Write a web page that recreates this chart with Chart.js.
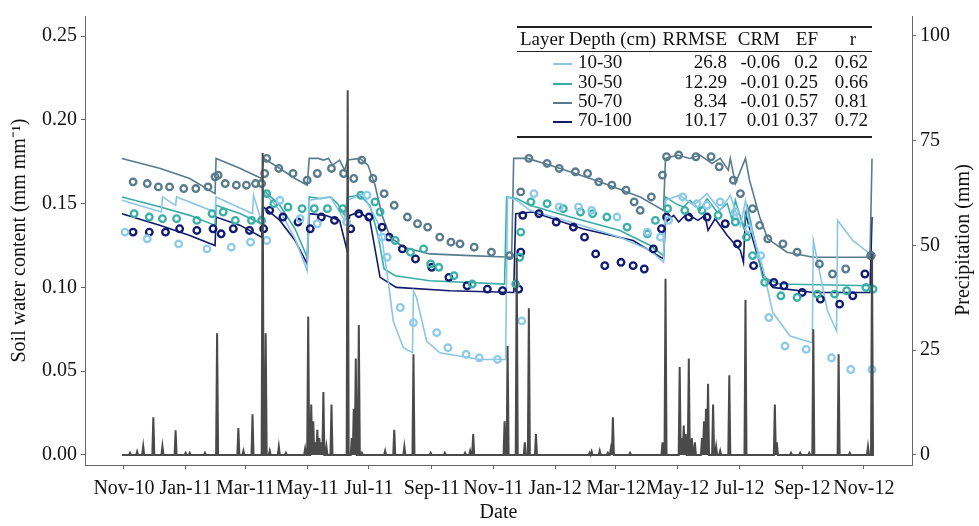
<!DOCTYPE html>
<html>
<head>
<meta charset="utf-8">
<title>Soil water content and precipitation</title>
<script src="https://cdn.jsdelivr.net/npm/chart.js"></script>
<style>
  body { margin: 0; background: #fff; font-family: 'Liberation Serif', 'Times New Roman', serif; }
  #wrap { position: relative; width: 979px; height: 526px; }
  #stats { position: absolute; left: 0; top: 0; width: 979px; height: 526px; pointer-events: none; font-size: 19px; color: #111; }
  #stats div { position: absolute; height: 22px; line-height: 22px; white-space: nowrap; }
  #stats div.rule { height: 2px; background: #222; }
  #stats div.ytitle2 { font-size: 20px; width: 240px; text-align: center; transform: rotate(-90deg); }
</style>
</head>
<body>
<div id="wrap">
  <canvas id="swc" width="979" height="526"></canvas>
  <div id="stats"></div>
</div>
<script>
// x values are days since 1 Nov 2010
const monthDays = [0, 61, 120, 181, 242, 304, 365, 426, 486, 547, 608, 670, 731];
const monthLabels = ['Nov-10', 'Jan-11', 'Mar-11', 'May-11', 'Jul-11', 'Sep-11', 'Nov-11',
                     'Jan-12', 'Mar-12', 'May-12', 'Jul-12', 'Sep-12', 'Nov-12'];
const swcTicks = [0, 0.05, 0.10, 0.15, 0.20, 0.25];
const rainTicks = [0, 25, 50, 75, 100];

// table next to the legend
const layers = ['10-30', '30-50', '50-70', '70-100'];
const rrmse = ['26.8', '12.29', '8.34', '10.17'];
const crm = ['-0.06', '-0.01', '-0.01', '0.01'];
const ef = ['0.2', '0.25', '0.57', '0.37'];
const rval = ['0.62', '0.66', '0.81', '0.72'];
const layerColors = ['#8cc6e6', '#38ada6', '#587b8d', '#121a6c'];

// precipitation events [day, mm]; every other day is 0
const rain = [[6,0.5],[13,0.8],[19,2.1],[29,9],[38,2.1],[51,5.9],[61,0.5],[65,0.5],[80,0.5],[92,29],
  [113,6.4],[118,1],[127,9.7],[137,72],[140,29],[144,1],[153,2],[160,0.5],[179,1.5],[182,33],
  [185,12],[187,8],[189,3],[191,6],[193,4],[195,3],[197,15],[200,2],[205,12],[221,87],
  [225,4],[227,11],[229,23],[232,31],[235,0.5],[258,1],[267,6],[277,2],[286,24],[303,0.5],
  [317,0.5],[337,0.5],[342,1],[345,5],[376,8],[379,26],[388,47],[396,3],[400,35],[407,5],
  [460,0.5],[462,0.8],[470,1],[478,0.5],[481,1.5],[483,9],[500,0.5],[532,3],[535,42],[549,21],
  [551,4],[553,7],[555,5],[558,23],[561,4],[564,3],[571,4],[573,8],[575,11],[577,17],
  [582,12],[585,2],[589,1],[598,19],[614,37],[643,12],[645,3],[659,0.5],[668,0.5],[677,0.5],
  [681,30],[706,24],[717,0.5],[735,2],[739,48]];

// simulated soil water content [day, mm/mm]
const sim10_30 = [[-2,0.152],[37,0.145],[38,0.154],[51,0.149],[52,0.154],[90,0.145],[91,0.154],
  [127,0.144],[128,0.155],[136,0.139],[138,0.157],[154,0.146],[169,0.129],[181,0.110],[183,0.152],
  [204,0.154],[218,0.140],[221,0.152],[236,0.156],[253,0.136],[261,0.104],[266,0.080],[276,0.064],
  [285,0.061],[286,0.098],[289,0.094],[299,0.068],[312,0.061],[352,0.057],[377,0.057],[379,0.154],
  [388,0.152],[401,0.146],[441,0.139],[490,0.130],[520,0.122],[533,0.115],[535,0.152],[549,0.155],
  [563,0.149],[576,0.156],[589,0.146],[599,0.155],[609,0.137],[614,0.152],[618,0.138],[631,0.112],
  [641,0.085],[658,0.071],[680,0.067],[681,0.128],[695,0.086],[704,0.074],[705,0.140],[720,0.128],
  [737,0.120]];
const sim30_50 = [[-2,0.154],[36,0.148],[65,0.143],[90,0.137],[91,0.149],[115,0.144],[136,0.138],
  [138,0.158],[154,0.149],[169,0.135],[181,0.118],[183,0.154],[194,0.153],[204,0.154],[211,0.150],
  [218,0.143],[221,0.154],[233,0.155],[243,0.149],[251,0.131],[257,0.111],[268,0.107],[302,0.104],
  [376,0.102],[378,0.154],[388,0.153],[401,0.149],[441,0.142],[490,0.134],[520,0.125],[533,0.119],
  [535,0.154],[545,0.150],[553,0.148],[559,0.152],[569,0.146],[576,0.153],[586,0.145],[596,0.150],
  [601,0.140],[604,0.152],[612,0.136],[616,0.148],[623,0.128],[631,0.106],[648,0.102],[737,0.101]];
const sim50_70 = [[-2,0.177],[36,0.171],[65,0.165],[90,0.156],[91,0.177],[115,0.171],[136,0.165],
  [138,0.177],[154,0.171],[169,0.165],[181,0.161],[183,0.177],[192,0.177],[197,0.176],[202,0.177],
  [206,0.173],[213,0.176],[218,0.170],[221,0.176],[233,0.177],[241,0.173],[248,0.161],[255,0.143],
  [263,0.130],[276,0.124],[302,0.120],[342,0.119],[383,0.118],[385,0.177],[399,0.177],[431,0.171],
  [470,0.163],[510,0.154],[533,0.146],[535,0.177],[547,0.179],[559,0.177],[569,0.179],[581,0.174],
  [589,0.177],[597,0.170],[599,0.177],[604,0.162],[614,0.177],[618,0.164],[628,0.142],[636,0.129],
  [655,0.121],[681,0.118],[737,0.118],[739,0.177]];
const sim70_100 = [[-2,0.144],[36,0.137],[65,0.131],[90,0.125],[91,0.142],[115,0.137],[136,0.130],
  [138,0.148],[154,0.140],[169,0.128],[181,0.114],[183,0.144],[199,0.143],[213,0.140],[220,0.123],
  [223,0.143],[233,0.145],[243,0.140],[253,0.106],[269,0.100],[322,0.098],[385,0.097],[387,0.144],
  [404,0.145],[453,0.135],[503,0.128],[533,0.117],[535,0.139],[543,0.143],[548,0.139],[556,0.144],
  [567,0.140],[574,0.143],[577,0.134],[584,0.141],[596,0.131],[609,0.122],[612,0.115],[614,0.144],
  [631,0.108],[641,0.100],[681,0.097],[737,0.097],[739,0.142]];

// observed soil water content [day, mm/mm]
const obs10_30 = [[1,0.133],[23,0.129],[54,0.126],[82,0.123],[106,0.124],[125,0.127],[141,0.128],
  [154,0.152],[174,0.141],[191,0.138],[220,0.139],[240,0.155],[255,0.130],[260,0.118],[273,0.088],
  [286,0.079],[309,0.073],[320,0.064],[338,0.060],[351,0.058],[369,0.057],[393,0.080],[405,0.156],
  [430,0.148],[449,0.148],[462,0.146],[487,0.142],[517,0.133],[530,0.130],[538,0.140],[552,0.154],
  [566,0.150],[576,0.149],[589,0.151],[604,0.145],[617,0.135],[629,0.119],[637,0.082],[653,0.065],
  [674,0.063],[699,0.058],[718,0.051],[739,0.051]];
const obs30_50 = [[10,0.144],[25,0.142],[38,0.141],[52,0.141],[72,0.140],[87,0.144],[98,0.145],
  [110,0.140],[126,0.140],[136,0.140],[141,0.156],[148,0.150],[162,0.148],[176,0.147],[188,0.147],
  [201,0.147],[216,0.147],[234,0.155],[248,0.151],[253,0.145],[268,0.128],[283,0.121],[296,0.123],
  [303,0.114],[311,0.112],[326,0.107],[344,0.102],[387,0.102],[391,0.118],[392,0.133],[402,0.151],
  [418,0.150],[434,0.147],[451,0.145],[463,0.144],[477,0.142],[497,0.136],[517,0.132],[525,0.140],
  [537,0.147],[554,0.146],[571,0.146],[587,0.143],[604,0.139],[615,0.130],[621,0.119],[633,0.103],
  [649,0.095],[665,0.094],[685,0.096],[702,0.096],[714,0.098],[733,0.100],[740,0.099]];
const obs50_70 = [[9,0.163],[23,0.162],[34,0.160],[45,0.160],[59,0.159],[71,0.159],[83,0.160],
  [90,0.166],[93,0.167],[100,0.162],[111,0.161],[121,0.161],[130,0.162],[136,0.162],[139,0.168],
  [141,0.177],[153,0.171],[167,0.168],[181,0.164],[191,0.168],[205,0.171],[217,0.168],[227,0.165],
  [235,0.176],[246,0.165],[257,0.156],[267,0.149],[280,0.142],[290,0.138],[300,0.136],[312,0.130],
  [323,0.127],[332,0.126],[346,0.124],[363,0.121],[381,0.119],[392,0.157],[400,0.177],[418,0.174],
  [430,0.171],[446,0.169],[458,0.168],[469,0.163],[482,0.161],[496,0.158],[504,0.151],[510,0.146],
  [521,0.154],[532,0.167],[536,0.178],[548,0.179],[565,0.178],[580,0.178],[588,0.172],[602,0.164],
  [609,0.156],[621,0.147],[628,0.137],[636,0.129],[651,0.126],[665,0.121],[687,0.114],[700,0.108],
  [713,0.111],[738,0.119]];
const obs70_100 = [[9,0.133],[25,0.133],[41,0.133],[55,0.135],[72,0.134],[88,0.135],[96,0.132],
  [108,0.135],[124,0.134],[138,0.135],[144,0.146],[157,0.142],[172,0.139],[184,0.135],[195,0.142],
  [208,0.140],[224,0.135],[232,0.144],[242,0.142],[255,0.136],[262,0.130],[275,0.123],[288,0.117],
  [304,0.112],[321,0.106],[339,0.101],[359,0.099],[374,0.098],[390,0.099],[392,0.121],[394,0.143],
  [410,0.144],[427,0.139],[444,0.136],[455,0.130],[466,0.120],[475,0.113],[491,0.115],[503,0.113],
  [514,0.111],[523,0.123],[531,0.135],[536,0.142],[558,0.142],[576,0.142],[594,0.138],[606,0.126],
  [622,0.113],[642,0.103],[652,0.101],[670,0.097],[688,0.093],[707,0.090],[720,0.095],[732,0.108],
  [738,0.119]];

const toPts = arr => arr.map(p => ({ x: p[0], y: p[1] }));

// daily precipitation line
const rainByDay = {};
rain.forEach(p => { rainByDay[p[0]] = p[1]; });
const rainPts = [];
for (let d = -2; d <= 741; d++) rainPts.push({ x: d, y: rainByDay[d] || 0 });

// ---- stats table drawn as html text over the plot ----
const stats = document.getElementById('stats');
function put(text, x, cy, align) {
  const el = document.createElement('div');
  el.textContent = text;
  el.style.top = (cy - 11) + 'px';
  if (align === 'right') el.style.right = (979 - x) + 'px';
  else if (align === 'center') { el.style.left = (x - 40) + 'px'; el.style.width = '80px'; el.style.textAlign = 'center'; }
  else el.style.left = x + 'px';
  stats.appendChild(el);
  return el;
}
function rule(y, h) {
  const el = document.createElement('div');
  el.className = 'rule';
  el.style.left = '517px'; el.style.width = '355px';
  el.style.top = y + 'px'; el.style.height = h + 'px';
  stats.appendChild(el);
}
rule(26, 2); rule(51, 1); rule(136, 2);
put('Layer Depth (cm)', 520, 39);
put('RRMSE', 727, 39, 'right');
put('CRM', 780, 39, 'right');
put('EF', 818, 39, 'right');
put('r', 853, 39, 'center');
const rowY = [62, 82, 101, 120];
layers.forEach((name, i) => {
  const sw = document.createElement('div');
  sw.style.left = '553px'; sw.style.width = '19px';
  sw.style.top = (rowY[i] + 1) + 'px'; sw.style.height = '2px';
  sw.style.background = layerColors[i];
  stats.appendChild(sw);
  put(name, 578, rowY[i]);
  put(rrmse[i], 727, rowY[i], 'right');
  put(crm[i], 780, rowY[i], 'right');
  put(ef[i], 818, rowY[i], 'right');
  put(rval[i], 868, rowY[i], 'right');
});

// right axis title reads bottom to top, like the left one
const t2 = put('Precipitation (mm)', 962 - 120, 240);
t2.className = 'ytitle2';

// ---- chart ----
const font = { family: "'Liberation Serif', 'Times New Roman', serif", size: 20 };
const axisGrid = { drawOnChartArea: false, drawTicks: true, tickLength: 4, color: '#666' };
const axisBorder = { display: true, color: '#666', width: 1 };

function simSet(data, color) {
  return { data: toPts(data), borderColor: color, borderWidth: 1.6, pointRadius: 0,
           tension: 0, fill: false, yAxisID: 'y', order: 3 };
}
function obsSet(data, color) {
  return { data: toPts(data), showLine: false, borderColor: color, pointBorderColor: color,
           pointBackgroundColor: 'rgba(0,0,0,0)', pointRadius: 3.3, pointBorderWidth: 2.3,
           pointStyle: 'circle', yAxisID: 'y', order: 2 };
}

new Chart(document.getElementById('swc'), {
  type: 'line',
  data: {
    datasets: [
      { data: rainPts, borderColor: '#4a4a4a', borderWidth: 2, pointRadius: 0, tension: 0,
        yAxisID: 'y2', order: 1 },
      obsSet(obs10_30, '#8ecbea'),
      obsSet(obs30_50, '#38b0a8'),
      obsSet(obs50_70, '#587b8d'),
      obsSet(obs70_100, '#101a70'),
      simSet(sim10_30, layerColors[0]),
      simSet(sim30_50, layerColors[1]),
      simSet(sim50_70, layerColors[2]),
      simSet(sim70_100, layerColors[3])
    ]
  },
  options: {
    responsive: false,
    devicePixelRatio: 1,
    animation: false,
    layout: { padding: { top: 15, left: 0, right: 0, bottom: 0 } },
    plugins: { legend: { display: false }, tooltip: { enabled: false } },
    scales: {
      x: {
        type: 'linear', min: -38.5, max: 778.5,
        afterBuildTicks: s => { s.ticks = monthDays.map(v => ({ value: v })); },
        afterFit: s => { s.height = 61; },
        ticks: { callback: (v, i) => monthLabels[i], autoSkip: false, maxRotation: 0,
                 padding: 8, color: '#111', font },
        grid: axisGrid, border: axisBorder,
        title: { display: true, text: 'Date', color: '#111', font, padding: { top: 0, bottom: 1 } }
      },
      y: {
        position: 'left', min: -0.006, max: 0.262,
        afterBuildTicks: s => { s.ticks = swcTicks.map(v => ({ value: v })); },
        afterFit: s => { s.width = 85; },
        ticks: { callback: v => v.toFixed(2), padding: 4, color: '#111', font },
        grid: axisGrid, border: axisBorder,
        title: { display: true, text: 'Soil water content (mm mm\u207B\u00B9)', color: '#111', font,
                 padding: { top: 8, bottom: 4 } }
      },
      y2: {
        position: 'right', min: -2.4, max: 104.7,
        afterBuildTicks: s => { s.ticks = rainTicks.map(v => ({ value: v })); },
        afterFit: s => { s.width = 67; },
        ticks: { padding: 4, color: '#111', font },
        grid: axisGrid, border: axisBorder,
        title: { display: false }
      }
    }
  }
});
</script>
</body>
</html>
